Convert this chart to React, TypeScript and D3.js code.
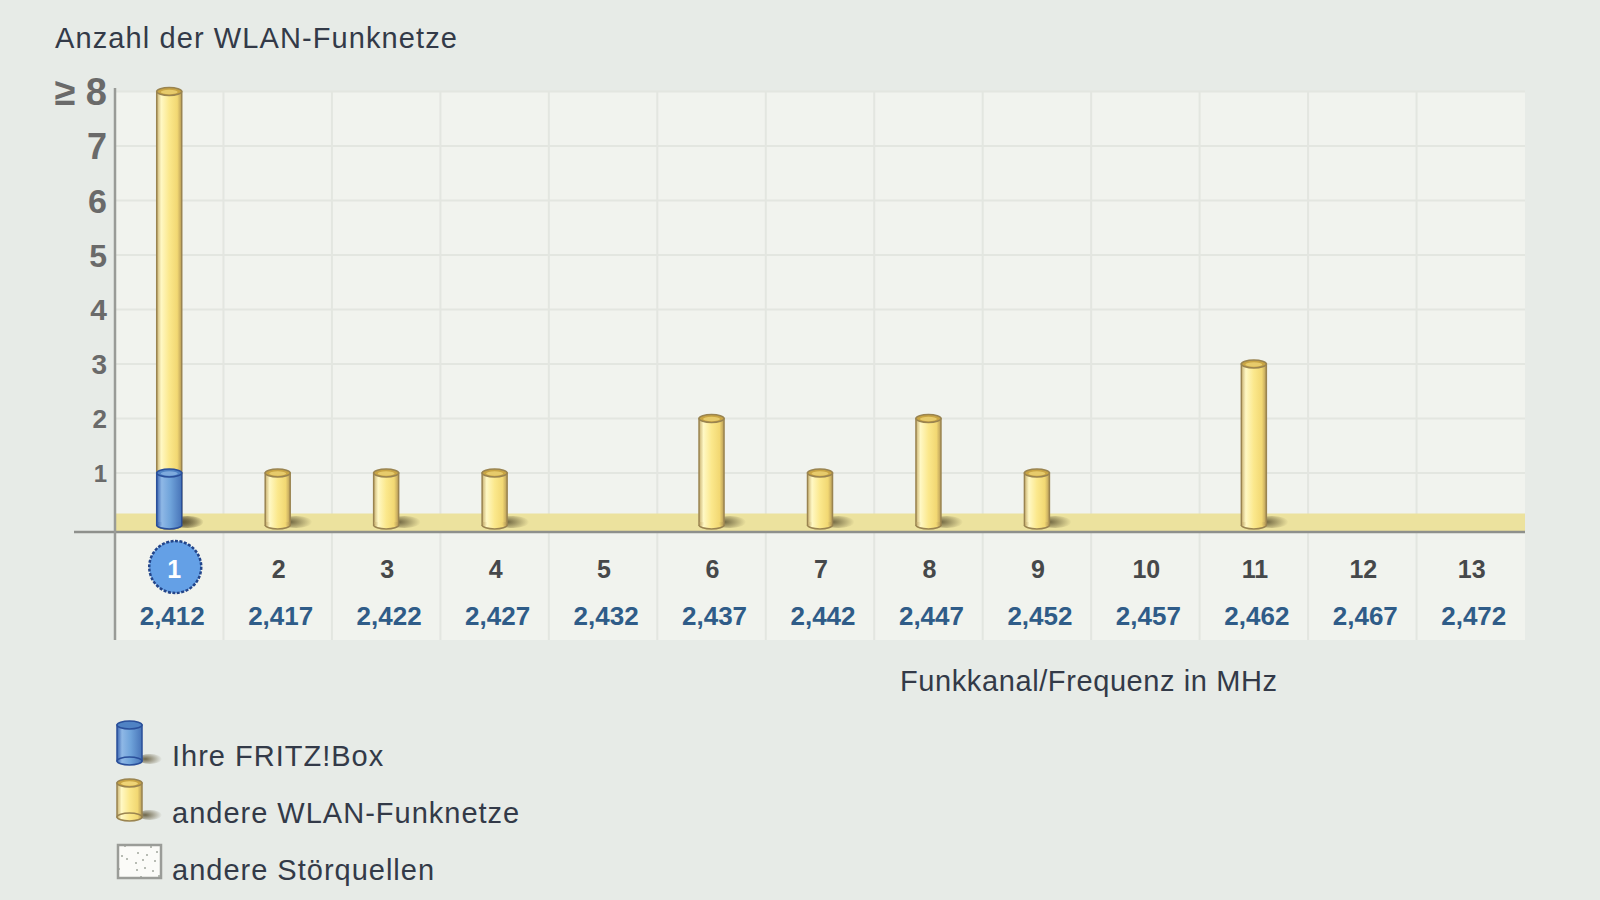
import React from "react";
import * as d3 from "d3";

// Channels of the 2.4 GHz band and their centre frequencies
const channels = [1, 2, 3, 4, 5, 6, 7, 8, 9, 10, 11, 12, 13];
const frequencies = ["2,412", "2,417", "2,422", "2,427", "2,432", "2,437", "2,442", "2,447", "2,452", "2,457", "2,462", "2,467", "2,472"];
// Number of foreign WLANs per channel (8 means "8 or more")
const otherNetworks = [8, 1, 1, 1, 0, 2, 1, 2, 1, 0, 3, 0, 0];
// The own FRITZ!Box per channel
const fritzBox = [1, 0, 0, 0, 0, 0, 0, 0, 0, 0, 0, 0, 0];
const activeChannel = 1;
const yTickValues = [1, 2, 3, 4, 5, 6, 7, 8];
const yTickLabels = ["1", "2", "3", "4", "5", "6", "7", "≥ 8"];

const W = 1600;
const H = 900;
const plotLeft = 115;
const plotRight = 1525;
const plotTop = 92;
const plotBottom = 640;
const FONT = "'Liberation Sans', Arial, sans-serif";

export default function App() {
  const x = d3.scaleBand<number>().domain(channels).range([plotLeft, plotRight]).padding(0);
  const y = d3.scaleLinear().domain([0, 8]).range([527.5, 91.5]);
  const tickFont = d3.scaleLinear().domain([1, 8]).range([24, 38]);
  const barW = 25;
  const barBottom = y(0) - 2.5;
  const capRy = 4;

  const cylinder = (cx: number, v: number, kind: "y" | "b", key: string) => {
    const top = y(v);
    const body = kind === "y" ? "url(#gYellow)" : "url(#gBlue)";
    const stroke = kind === "y" ? "#9a8450" : "#2a4f9a";
    const capFill = kind === "y" ? "#c9a544" : "#4f82c4";
    const capInner = kind === "y" ? "#efd476" : "#8ab4e4";
    return (
      <g key={key}>
        <ellipse cx={cx + barW / 2 + 6} cy={barBottom - 3} rx={16} ry={6} fill="url(#gShadow)" />
        <rect x={cx - barW / 2} y={top} width={barW} height={barBottom - top} fill={body} stroke={stroke} strokeWidth={1.5} />
        <path
          d={`M${cx - barW / 2},${barBottom} A${barW / 2},${capRy} 0 0 0 ${cx + barW / 2},${barBottom}`}
          fill={body}
          stroke={stroke}
          strokeWidth={1.5}
        />
        <rect x={cx - barW / 2 + 0.75} y={barBottom - 3} width={barW - 1.5} height={3.5} fill={body} />
        <ellipse cx={cx} cy={top} rx={barW / 2} ry={capRy} fill={capFill} stroke={stroke} strokeWidth={1.5} />
        <ellipse cx={cx} cy={top + 0.5} rx={barW / 2 - 4} ry={capRy - 1.8} fill={capInner} opacity={0.8} />
      </g>
    );
  };

  const colCenter = (c: number) => (x(c) as number) + x.bandwidth() / 2;

  return (
    <svg width={W} height={H} style={{ position: "absolute", left: 0, top: 0, display: "block" }}>
      <defs>
        <linearGradient id="gYellow" x1="0" x2="1" y1="0" y2="0">
          <stop offset="0" stopColor="#c8b070" />
          <stop offset="0.18" stopColor="#fff8c4" />
          <stop offset="0.5" stopColor="#fbe88c" />
          <stop offset="0.82" stopColor="#f2d873" />
          <stop offset="1" stopColor="#b89c58" />
        </linearGradient>
        <linearGradient id="gBlue" x1="0" x2="1" y1="0" y2="0">
          <stop offset="0" stopColor="#3a64b0" />
          <stop offset="0.2" stopColor="#8fb8e6" />
          <stop offset="0.55" stopColor="#6fa3da" />
          <stop offset="1" stopColor="#4874b8" />
        </linearGradient>
        <radialGradient id="gShadow" cx="0.3" cy="0.5" r="0.7">
          <stop offset="0" stopColor="#5a5030" stopOpacity="0.85" />
          <stop offset="1" stopColor="#5a5030" stopOpacity="0" />
        </radialGradient>
        <pattern id="noise" width="44" height="32" patternUnits="userSpaceOnUse">
          <rect width="44" height="32" fill="#fbfbf8" />
          {[[4, 5], [12, 3], [20, 6], [30, 4], [8, 12], [18, 14], [26, 11], [36, 13], [5, 20], [14, 22], [24, 19], [33, 23], [10, 27], [22, 28], [38, 26], [3, 30]].map(([px, py], i) => (
            <rect key={i} x={px} y={py} width={2} height={2} fill="#b8bcb4" />
          ))}
        </pattern>
      </defs>

      <rect width={W} height={H} fill="#e7ebe7" />

      {/* plot area */}
      <rect x={plotLeft} y={plotTop} width={plotRight - plotLeft} height={plotBottom - plotTop} fill="#f1f3ee" />
      {yTickValues.map((v) => (
        <line key={"h" + v} x1={plotLeft} x2={plotRight} y1={y(v)} y2={y(v)} stroke="#e3e6e0" strokeWidth={2} />
      ))}
      {channels.slice(1).map((c) => (
        <line key={"v" + c} x1={x(c) as number} x2={x(c) as number} y1={plotTop} y2={plotBottom} stroke="#e3e6e0" strokeWidth={2} />
      ))}

      {/* floor band */}
      <rect x={plotLeft} y={y(0) - 14} width={plotRight - plotLeft} height={18} fill="#ece29e" />

      {/* bars */}
      {channels.map((c, i) => {
        const cx = colCenter(c);
        const out: React.ReactNode[] = [];
        if (otherNetworks[i] > 0) out.push(cylinder(cx, otherNetworks[i], "y", "y" + c));
        if (fritzBox[i] > 0) out.push(cylinder(cx, fritzBox[i], "b", "b" + c));
        return <g key={c}>{out}</g>;
      })}

      {/* axes */}
      <line x1={74} x2={plotRight} y1={532} y2={532} stroke="#8e908c" strokeWidth={2.5} />
      <line x1={plotLeft} x2={plotLeft} y1={88} y2={plotBottom} stroke="#999b97" strokeWidth={2.5} />

      {/* y tick labels */}
      {yTickValues.map((v, i) => (
        <text key={"yl" + v} x={107} y={y(v)} dy="0.36em" textAnchor="end" fontFamily={FONT} fontWeight="bold" fontSize={tickFont(v)} fill="#6a6a6a">
          {yTickLabels[i]}
        </text>
      ))}

      {/* x labels */}
      {channels.map((c, i) => {
        const cx = colCenter(c);
        const active = c === activeChannel;
        return (
          <g key={"xl" + c}>
            {active && (
              <circle cx={cx + 6} cy={567} r={26} fill="#64a0e6" stroke="#23458a" strokeWidth={2.5} strokeDasharray="3 1.5" />
            )}
            <text x={active ? cx + 5 : cx + 1} y={578} textAnchor="middle" fontFamily={FONT} fontWeight="bold" fontSize={25} fill={active ? "#ffffff" : "#46484a"}>
              {c}
            </text>
            <text x={cx + 3} y={625} textAnchor="middle" fontFamily={FONT} fontWeight="bold" fontSize={26} fill="#2f5c88">
              {frequencies[i]}
            </text>
          </g>
        );
      })}

      {/* titles */}
      <text x={55} y={48} fontFamily={FONT} fontSize={29} letterSpacing={1.1} fill="#333a48">Anzahl der WLAN-Funknetze</text>
      <text x={900} y={691} fontFamily={FONT} fontSize={29} letterSpacing={0.6} fill="#333a48">Funkkanal/Frequenz in MHz</text>

      {/* legend */}
      <g>
        <g>
          <ellipse cx={150} cy={759} rx={12} ry={5} fill="url(#gShadow)" />
          <rect x={117} y={725} width={25} height={36} fill="url(#gBlue)" stroke="#2a4f9a" strokeWidth={1.5} />
          <ellipse cx={129.5} cy={761} rx={12.5} ry={4} fill="url(#gBlue)" stroke="#2a4f9a" strokeWidth={1.5} />
          <ellipse cx={129.5} cy={725} rx={12.5} ry={4} fill="#4f82c4" stroke="#2a4f9a" strokeWidth={1.5} />
        </g>
        <text x={172} y={766} fontFamily={FONT} fontSize={29} letterSpacing={1} fill="#333a48">Ihre FRITZ!Box</text>

        <g>
          <ellipse cx={150} cy={815} rx={12} ry={5} fill="url(#gShadow)" />
          <rect x={117} y={783} width={25} height={34} fill="url(#gYellow)" stroke="#9a8450" strokeWidth={1.5} />
          <ellipse cx={129.5} cy={817} rx={12.5} ry={4} fill="url(#gYellow)" stroke="#9a8450" strokeWidth={1.5} />
          <ellipse cx={129.5} cy={783} rx={12.5} ry={4} fill="#c9a544" stroke="#9a8450" strokeWidth={1.5} />
          <ellipse cx={129.5} cy={783.5} rx={8.5} ry={2.2} fill="#efd476" />
        </g>
        <text x={172} y={823} fontFamily={FONT} fontSize={29} letterSpacing={1} fill="#333a48">andere WLAN-Funknetze</text>

        <rect x={118} y={845} width={43} height={33} fill="url(#noise)" stroke="#9a9c98" strokeWidth={2.5} />
        <text x={172} y={880} fontFamily={FONT} fontSize={29} letterSpacing={1} fill="#333a48">andere Störquellen</text>
      </g>
    </svg>
  );
}
